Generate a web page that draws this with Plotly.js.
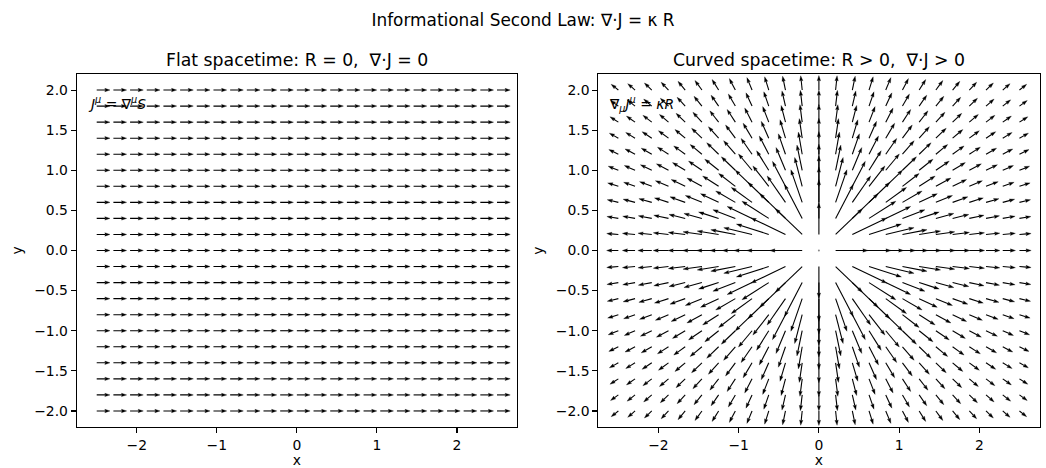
<!DOCTYPE html>
<html>
<head>
<meta charset="utf-8">
<script src="https://cdn.plot.ly/plotly-3.0.1.min.js"></script>
<style>html,body{margin:0;padding:0;background:#fff;}</style>
</head>
<body>
<div id="chart" style="width:1046px;height:468px;"></div>
<script>
// ---- data ----
// grid of arrow tails (25 columns, 21 rows)
const gridX = [-2.5, -2.2917, -2.0833, -1.875, -1.6667, -1.4583, -1.25, -1.0417, -0.8333, -0.625, -0.4167, -0.2083, 0,
               0.2083, 0.4167, 0.625, 0.8333, 1.0417, 1.25, 1.4583, 1.6667, 1.875, 2.0833, 2.2917, 2.5];
const gridY = [-2.0, -1.8, -1.6, -1.4, -1.2, -1.0, -0.8, -0.6, -0.4, -0.2, 0, 0.2, 0.4, 0.6, 0.8, 1.0, 1.2, 1.4, 1.6, 1.8, 2.0];
// flat spacetime: uniform flux J = grad S = (1, 0)
const flatJx = 1.0;
const flatJy = 0.0;
// curved spacetime: radial source J = kappa * (x, y) / (r^2 + core^2)
const curvedKappa = 1.0;
const curvedCore2 = 0.15;
// tick labels
const xTickVals = [-2, -1, 0, 1, 2];
const xTickText = ["\u22122", "\u22121", "0", "1", "2"];
const yTickVals = [-2.0, -1.5, -1.0, -0.5, 0.0, 0.5, 1.0, 1.5, 2.0];
const yTickText = ["\u22122.0", "\u22121.5", "\u22121.0", "\u22120.5", "0.0", "0.5", "1.0", "1.5", "2.0"];
const titles = {
  main: "Informational Second Law: \u2207\u00b7J = \u03ba R",
  left: "Flat spacetime: R = 0, \u00a0\u2207\u00b7J = 0",
  right: "Curved spacetime: R > 0, \u00a0\u2207\u00b7J > 0",
  leftEq: "<i>J</i><sup><i>\u03bc</i></sup> = \u2207<sup><i>\u03bc</i></sup><i>S</i>",
  rightEq: "\u2207<sub><i>\u03bc</i></sub><i>J</i><sup><i>\u03bc</i></sup> = <i>\u03baR</i>"
};

// ---- field construction ----
function flatField(x, y) { return [flatJx, flatJy]; }
function curvedField(x, y) {
  const d = x * x + y * y + curvedCore2;
  return [curvedKappa * x / d, curvedKappa * y / d];
}

// ---- quiver drawing (style) ----
const PX = 80.3;                 // pixels per data unit (both axes)
const HEAD_L = 5.2 / PX, HEAD_AX = 4.6 / PX, HEAD_W = 1.7 / PX;

function quiver(field, scale, xa, ya) {
  const sx = [], sy = [], hx = [], hy = [], dx = [], dy = [];
  for (const y of gridY) {
    for (const x of gridX) {
      const [u, v] = field(x, y);
      const L = Math.hypot(u, v) * scale;
      if (L === 0) { dx.push(x); dy.push(y); continue; }
      const ux = u / Math.hypot(u, v), uy = v / Math.hypot(u, v);
      const nx = -uy, ny = ux;
      const tx = x + ux * L, ty = y + uy * L;
      let hl = HEAD_L, ha = HEAD_AX, hw = HEAD_W;
      if (L < hl) { const f = L / hl; hl *= f; ha *= f; hw *= f; }
      const bx = tx - ux * ha, by = ty - uy * ha;
      sx.push(x, bx, null); sy.push(y, by, null);
      hx.push(tx, tx - ux * hl + nx * hw, bx, tx - ux * hl - nx * hw, tx, null);
      hy.push(ty, ty - uy * hl + ny * hw, by, ty - uy * hl - ny * hw, ty, null);
    }
  }
  return [
    {type: 'scatter', mode: 'lines', x: sx, y: sy, xaxis: xa, yaxis: ya,
     line: {color: '#000', width: 1.1}, hoverinfo: 'skip', showlegend: false},
    {type: 'scatter', mode: 'lines', x: hx, y: hy, xaxis: xa, yaxis: ya, fill: 'toself',
     fillcolor: '#000', line: {color: '#000', width: 0.3}, hoverinfo: 'skip', showlegend: false},
    {type: 'scatter', mode: 'markers', x: dx, y: dy, xaxis: xa, yaxis: ya,
     marker: {color: '#888', size: 2}, hoverinfo: 'skip', showlegend: false}
  ];
}

const traces = [].concat(
  quiver(flatField, 0.166, 'x', 'y'),
  quiver(curvedField, 0.375, 'x2', 'y2')
);

const FONT = "DejaVu Sans, Liberation Sans, sans-serif";
function xAxis(domain, anchor) {
  return {domain: domain, anchor: anchor, range: [-2.75, 2.75], tickmode: 'array',
    tickvals: xTickVals, ticktext: xTickText, ticks: 'outside', ticklen: 4.9, tickwidth: 1.1,
    tickcolor: '#000', showline: true, linecolor: '#000', linewidth: 1.1, mirror: true,
    showgrid: false, zeroline: false, tickfont: {family: FONT, size: 13.9, color: '#000'},
    title: {text: 'x', font: {family: FONT, size: 13.9, color: '#000'}, standoff: 7},
    fixedrange: true};
}
function yAxis(domain, anchor) {
  return {domain: domain, anchor: anchor, range: [-2.2, 2.2], tickmode: 'array',
    tickvals: yTickVals, ticktext: yTickText, ticks: 'outside', ticklen: 4.9, tickwidth: 1.1,
    tickcolor: '#000', showline: true, linecolor: '#000', linewidth: 1.1, mirror: true,
    showgrid: false, zeroline: false, tickfont: {family: FONT, size: 13.9, color: '#000'},
    title: {text: 'y', font: {family: FONT, size: 13.9, color: '#000'}, standoff: 8},
    fixedrange: true};
}

const W = 1046, H = 468;
const yDom = [1 - 427 / H, 1 - 74 / H];
const layout = {
  width: W, height: H, autosize: false,
  margin: {l: 0, r: 0, t: 0, b: 0},
  paper_bgcolor: '#fff', plot_bgcolor: '#fff',
  font: {family: FONT, color: '#000'},
  showlegend: false,
  title: {text: titles.main, x: 0.5, xanchor: 'center', y: 1 - 20 / H, yanchor: 'middle',
          font: {family: FONT, size: 16.9, color: '#000'}},
  xaxis: xAxis([76.7 / W, 517 / W], 'y'),
  yaxis: yAxis(yDom, 'x'),
  xaxis2: xAxis([598.3 / W, 1039.5 / W], 'y2'),
  yaxis2: yAxis(yDom, 'x2'),
  annotations: [
    {text: titles.left, xref: 'paper', yref: 'paper', x: (76.7 + 517) / 2 / W, y: 1 - 60 / H,
     xanchor: 'center', yanchor: 'middle', showarrow: false, font: {family: FONT, size: 17.3, color: '#000'}},
    {text: titles.right, xref: 'paper', yref: 'paper', x: (598.3 + 1039.5) / 2 / W, y: 1 - 60 / H,
     xanchor: 'center', yanchor: 'middle', showarrow: false, font: {family: FONT, size: 17.3, color: '#000'}},
    {text: titles.leftEq, xref: 'x domain', yref: 'y domain', x: 0.02, y: 0.95,
     xanchor: 'left', yanchor: 'top', showarrow: false, font: {family: FONT, size: 13.9, color: '#000'}},
    {text: titles.rightEq, xref: 'x2 domain', yref: 'y2 domain', x: 0.02, y: 0.95,
     xanchor: 'left', yanchor: 'top', showarrow: false, font: {family: FONT, size: 13.9, color: '#000'}}
  ]
};

Plotly.newPlot('chart', traces, layout, {displayModeBar: false, staticPlot: true});
</script>
</body>
</html>
